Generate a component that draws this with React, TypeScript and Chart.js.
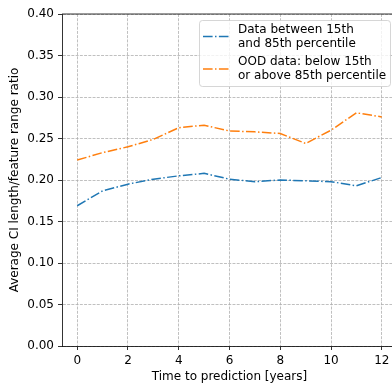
import React, { useEffect, useRef } from "react";
import { Chart, registerables } from "chart.js";

Chart.register(...registerables);

const years = [0, 1, 2, 3, 4, 5, 6, 7, 8, 9, 10, 11, 12];
const inRange = [0.169, 0.187, 0.195, 0.201, 0.205, 0.208, 0.201, 0.198, 0.2, 0.199, 0.198, 0.193, 0.203];
const ood = [0.224, 0.233, 0.24, 0.249, 0.263, 0.266, 0.259, 0.258, 0.256, 0.244, 0.26, 0.281, 0.276];
const xTicks = [0, 2, 4, 6, 8, 10, 12];
const yTicks = [0, 0.05, 0.1, 0.15, 0.2, 0.25, 0.3, 0.35, 0.4];
const legendLabels = [
  ["Data between 15th", "and 85th percentile"],
  ["OOD data: below 15th", "or above 85th percentile"],
];
const seriesColors = ["#1f77b4", "#ff7f0e"];

const FONT = "'DejaVu Sans', sans-serif";
const DASHDOT = [9.6, 2.4, 1.5, 2.4];
const GRIDDASH = [2.96, 1.28];

const legendPlugin = {
  id: "mplLegend",
  afterDraw(chart: any) {
    const { ctx, chartArea } = chart;
    ctx.save();
    // top & right spines
    ctx.strokeStyle = "#000";
    ctx.lineWidth = 0.8;
    ctx.setLineDash([]);
    ctx.beginPath();
    ctx.moveTo(chartArea.left, chartArea.top);
    ctx.lineTo(chartArea.right, chartArea.top);
    ctx.lineTo(chartArea.right, chartArea.bottom);
    ctx.stroke();

    // legend box
    const bx = 199.5, by = 20.5, bw = 191, bh = 66, r = 3;
    ctx.beginPath();
    ctx.moveTo(bx + r, by);
    ctx.lineTo(bx + bw - r, by);
    ctx.arcTo(bx + bw, by, bx + bw, by + r, r);
    ctx.lineTo(bx + bw, by + bh - r);
    ctx.arcTo(bx + bw, by + bh, bx + bw - r, by + bh, r);
    ctx.lineTo(bx + r, by + bh);
    ctx.arcTo(bx, by + bh, bx, by + bh - r, r);
    ctx.lineTo(bx, by + r);
    ctx.arcTo(bx, by, bx + r, by, r);
    ctx.closePath();
    ctx.fillStyle = "rgba(255,255,255,0.8)";
    ctx.fill();
    ctx.strokeStyle = "rgba(204,204,204,0.8)";
    ctx.lineWidth = 1;
    ctx.stroke();

    ctx.font = `12px ${FONT}`;
    ctx.textBaseline = "middle";
    ctx.textAlign = "left";
    const lineH = 14;
    const starts = [29.5, 62];
    legendLabels.forEach((lines, i) => {
      const y0 = starts[i];
      const midY = y0 + ((lines.length - 1) * lineH) / 2;
      ctx.strokeStyle = seriesColors[i];
      ctx.lineWidth = 1.5;
      ctx.setLineDash(DASHDOT);
      ctx.beginPath();
      ctx.moveTo(203, midY);
      ctx.lineTo(229, midY);
      ctx.stroke();
      ctx.setLineDash([]);
      ctx.fillStyle = "#000";
      lines.forEach((t, j) => ctx.fillText(t, 238, y0 + j * lineH));
    });
    ctx.restore();
  },
};

export default function App() {
  const ref = useRef<HTMLCanvasElement>(null);
  useEffect(() => {
    if (!ref.current) return;
    const chart = new Chart(ref.current, {
      type: "line",
      data: {
        datasets: [
          {
            label: legendLabels[0].join(" "),
            data: years.map((x, i) => ({ x, y: inRange[i] })),
            borderColor: seriesColors[0],
            borderWidth: 1.5,
            borderDash: DASHDOT,
            pointRadius: 0,
            fill: false,
            tension: 0,
          },
          {
            label: legendLabels[1].join(" "),
            data: years.map((x, i) => ({ x, y: ood[i] })),
            borderColor: seriesColors[1],
            borderWidth: 1.5,
            borderDash: DASHDOT,
            pointRadius: 0,
            fill: false,
            tension: 0,
          },
        ],
      },
      options: {
        animation: false,
        responsive: false,
        devicePixelRatio: 1,
        layout: { padding: { top: 14, right: 23, left: 0, bottom: 0 } },
        plugins: { legend: { display: false }, tooltip: { enabled: false } },
        scales: {
          x: {
            type: "linear",
            min: -0.6,
            max: 12.6,
            afterBuildTicks: (s: any) => {
              s.ticks = xTicks.map((v) => ({ value: v }));
            },
            afterFit: (s: any) => {
              s.height = 37;
            },
            ticks: {
              color: "#000",
              font: { family: FONT, size: 12 },
              padding: 4,
              maxRotation: 0,
              callback: (v: any) => String(v),
            },
            grid: {
              color: "#b0b0b0",
              lineWidth: 0.8,
              tickColor: "#000",
              tickLength: 4,
              tickWidth: 0.8,
            },
            border: { color: "#000", width: 0.8, dash: GRIDDASH },
            title: {
              display: true,
              text: "Time to prediction [years]",
              color: "#000",
              font: { family: FONT, size: 12 },
              padding: { top: 0, bottom: -1 },
            },
          },
          y: {
            type: "linear",
            min: 0,
            max: 0.4,
            afterBuildTicks: (s: any) => {
              s.ticks = yTicks.map((v) => ({ value: v }));
            },
            afterFit: (s: any) => {
              s.width = 62;
            },
            ticks: {
              color: "#000",
              font: { family: FONT, size: 12 },
              padding: 4,
              callback: (v: any) => Number(v).toFixed(2),
            },
            grid: {
              color: "#b0b0b0",
              lineWidth: 0.8,
              tickColor: "#000",
              tickLength: 4,
              tickWidth: 0.8,
            },
            border: { color: "#000", width: 0.8, dash: GRIDDASH },
            title: {
              display: true,
              text: "Average CI length/feature range ratio",
              color: "#000",
              font: { family: FONT, size: 12 },
              padding: { top: 8, bottom: 0 },
            },
          },
        },
      } as any,
      plugins: [legendPlugin],
    });
    return () => chart.destroy();
  }, []);
  return (
    <div
      style={{
        position: "fixed",
        left: 0,
        top: 0,
        width: 392,
        height: 383,
        overflow: "hidden",
        background: "#fff",
      }}
    >
      <canvas ref={ref} width={420} height={383} style={{ display: "block" }} />
    </div>
  );
}
